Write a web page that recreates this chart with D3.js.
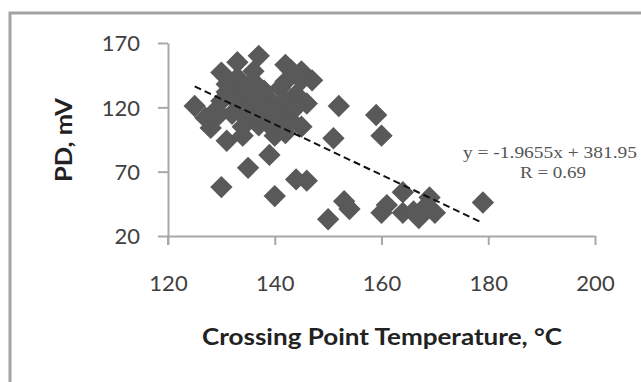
<!DOCTYPE html>
<html>
<head>
<meta charset="utf-8">
<script src="https://cdn.jsdelivr.net/npm/d3@7"></script>
<style>
  body { margin: 0; background: #fff; }
  svg { display: block; }
</style>
</head>
<body>
<script>
// crossing point temperature (°C) and PD (mV)
var temps = [125, 130, 133, 137, 142, 145, 147, 152, 159, 160, 151, 131, 128, 135, 139,
             130, 140, 144, 146, 150, 153, 154, 160, 161, 164, 164, 167, 168, 169, 170,
             179, 166, 130, 129, 133, 135, 137, 135, 139, 141, 143, 144, 145, 143, 146,
             140, 134, 132, 136, 138, 142, 143, 131, 134, 141, 144, 133, 136, 138, 140,
             132, 134, 136, 138, 140, 142, 144, 132, 134, 137, 139, 141, 136, 131, 129,
             127, 145, 142];
var pds   = [121, 147, 155, 160, 153, 148, 141, 121, 114, 98, 96, 94, 104, 73, 83,
             58, 51, 64, 63, 33, 47, 41, 38, 44, 54, 38, 34, 42, 50, 38,
             46, 39, 125, 112, 118, 110, 106, 130, 126, 104, 116, 130, 141, 149, 123,
             102, 98, 138, 140, 133, 140, 110, 132, 125, 118, 121, 143, 118, 112, 98,
             128, 135, 128, 120, 115, 125, 120, 115, 105, 113, 108, 135, 148, 138, 118,
             112, 105, 100];
var xTicks = [120, 140, 160, 180, 200];
var yTicks = [20, 70, 120, 170];
var slope = -1.9655, intercept = 381.95;
var trendX = [125, 179];

var width = 641, height = 382;
var svg = d3.select("body").append("svg")
    .attr("width", width)
    .attr("height", height);

// outer frame (cut off at right and bottom like the picture)
svg.append("rect")
    .attr("x", 10).attr("y", 13)
    .attr("width", 700).attr("height", 450)
    .attr("fill", "none")
    .attr("stroke", "#a3a3a3")
    .attr("stroke-width", 3);

var x = d3.scaleLinear().domain([120, 200]).range([168, 595]);
var y = d3.scaleLinear().domain([20, 170]).range([236, 43]);

var axisColor = "#a8a8a8";
var tickFont = "Lato, 'Open Sans', sans-serif";

var xAxis = svg.append("g")
    .attr("transform", "translate(0," + y(20) + ")")
    .call(d3.axisBottom(x).tickValues(xTicks).tickSizeInner(9).tickSizeOuter(0).tickFormat(d3.format("d")));
xAxis.select(".domain").attr("stroke", axisColor).attr("stroke-width", 2);
xAxis.selectAll(".tick line").attr("stroke", axisColor).attr("stroke-width", 2);
xAxis.selectAll(".tick text")
    .attr("y", 47).attr("dy", "0.35em")
    .attr("font-family", tickFont).attr("font-size", 22).attr("fill", "#404040");

var yAxis = svg.append("g")
    .attr("transform", "translate(" + x(120) + ",0)")
    .call(d3.axisLeft(y).tickValues(yTicks).tickSizeInner(10).tickSizeOuter(0));
yAxis.select(".domain").attr("stroke", axisColor).attr("stroke-width", 2);
yAxis.selectAll(".tick line").attr("stroke", axisColor).attr("stroke-width", 2);
yAxis.selectAll(".tick text")
    .attr("x", -28).attr("dy", "0.35em")
    .attr("font-family", tickFont).attr("font-size", 22).attr("fill", "#404040");

// y axis extends a little below the x axis, like a tick at 120
svg.append("line")
    .attr("x1", x(120)).attr("x2", x(120))
    .attr("y1", y(20)).attr("y2", y(20) + 9)
    .attr("stroke", axisColor).attr("stroke-width", 2);

// diamonds
var diamond = d3.symbol().type(d3.symbolSquare).size(250);
svg.append("g").selectAll("path")
    .data(temps)
    .enter()
    .append("path")
    .attr("d", diamond)
    .attr("transform", (d, i) => "translate(" + x(d) + "," + y(pds[i]) + ") rotate(45)")
    .attr("fill", "#595959");

// linear trend line
svg.append("line")
    .attr("x1", x(trendX[0])).attr("y1", y(slope * trendX[0] + intercept))
    .attr("x2", x(trendX[1])).attr("y2", y(slope * trendX[1] + intercept))
    .attr("stroke", "#111")
    .attr("stroke-width", 2)
    .attr("stroke-dasharray", "7,4");

// equation label
var eq = svg.append("g")
    .attr("font-family", "'Liberation Serif', 'Times New Roman', serif")
    .attr("font-size", 17)
    .attr("fill", "#555")
    .attr("text-anchor", "middle");
eq.append("text").attr("x", 550).attr("y", 158)
    .attr("textLength", 174).attr("lengthAdjust", "spacingAndGlyphs")
    .text("y = -1.9655x + 381.95");
eq.append("text").attr("x", 553).attr("y", 178)
    .attr("textLength", 66).attr("lengthAdjust", "spacingAndGlyphs")
    .text("R = 0.69");

// axis titles
svg.append("text")
    .attr("x", 382).attr("y", 337).attr("dy", "0.35em")
    .attr("text-anchor", "middle")
    .attr("textLength", 360).attr("lengthAdjust", "spacingAndGlyphs")
    .attr("font-family", tickFont).attr("font-weight", "bold").attr("font-size", 22)
    .attr("fill", "#222")
    .text("Crossing Point Temperature, °C");

svg.append("text")
    .attr("transform", "translate(64,140) rotate(-90)")
    .attr("dy", "0.35em")
    .attr("text-anchor", "middle")
    .attr("textLength", 84).attr("lengthAdjust", "spacingAndGlyphs")
    .attr("font-family", tickFont).attr("font-weight", "bold").attr("font-size", 22)
    .attr("fill", "#222")
    .text("PD, mV");
</script>
</body>
</html>
